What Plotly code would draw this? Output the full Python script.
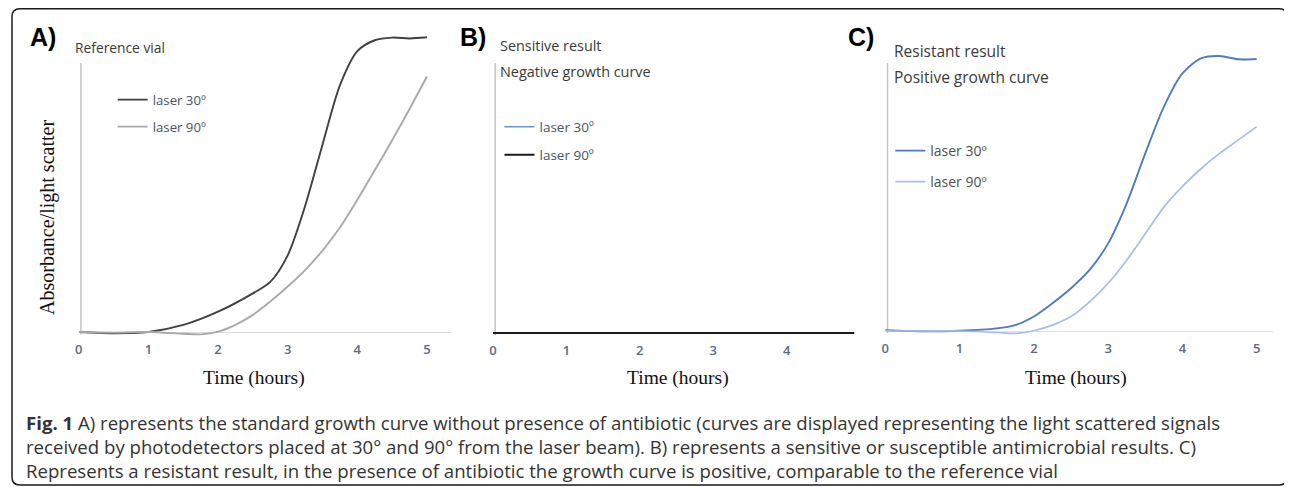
import plotly.graph_objects as go

OFF = 8                      # page body margin of the browser
W, H = 1292 - OFF, 487 - OFF

# ---------------- data (arbitrary signal units) ----------------
t_a30 = [0, 0.5, 1, 1.5, 2, 2.5, 2.75, 3, 3.25, 3.5, 3.75, 4, 4.25, 4.5, 4.75, 5]
a30 = [0, -0.4, 0, 2.4, 6.9, 13.1, 17.0, 26.0, 42.7, 63.5, 83.6, 95.2, 98.9, 99.8, 99.5, 99.9]
t_a90 = [0, 0.5, 1, 1.5, 1.75, 2, 2.25, 2.5, 2.75, 3, 3.25, 3.5, 3.75, 4, 4.25, 4.5, 4.75, 5]
a90 = [0, -0.2, 0, -0.6, -0.8, 0.1, 2.4, 5.8, 10.3, 15.4, 21.0, 27.6, 35.4, 44.8, 54.8, 65.0, 75.6, 86.6]

t_b = [0, 1, 2, 3, 4, 4.92]
b30 = [0, 0, 0, 0, 0, 0]
b90 = [0, 0, 0, 0, 0, 0]

t_c30 = [0, 0.5, 1, 1.5, 1.75, 2, 2.25, 2.5, 2.75, 3, 3.25, 3.5, 3.75, 4, 4.25, 4.5, 4.75, 5]
c30 = [0.3, -0.1, 0.1, 0.9, 2.0, 4.9, 9.4, 14.5, 20.7, 29.7, 43.3, 60.2, 76.0, 87.3, 92.4, 93.2, 92.1, 92.2]
t_c90 = [0, 0.5, 1, 1.5, 1.75, 2, 2.25, 2.5, 2.75, 3, 3.25, 3.5, 3.75, 4, 4.25, 4.5, 4.75, 5]
c90 = [0, 0, 0, -0.5, -0.8, 0.1, 2.0, 4.9, 9.9, 16.2, 24.0, 33.0, 42.0, 49.0, 55.0, 60.2, 64.7, 69.3]

ticks_ac = [0, 1, 2, 3, 4, 5]
ticks_b = [0, 1, 2, 3, 4]
legend_names = ["laser 30º", "laser 90º"]

panel_letters = ["A)", "B)", "C)"]
panel_titles = [["Reference vial"], ["Sensitive result", "Negative growth curve"],
                ["Resistant result", "Positive growth curve"]]
y_title = "Absorbance/light scatter"
x_title = "Time (hours)"
caption_lines = [
    "<b>Fig. 1</b> A) represents the standard growth curve without presence of antibiotic (curves are displayed representing the light scattered signals",
    "received by photodetectors placed at 30° and 90° from the laser beam). B) represents a sensitive or susceptible antimicrobial results. C)",
    "Represents a resistant result, in the presence of antibiotic the growth curve is positive, comparable to the reference vial",
]

# ---------------- helpers (page pixels -> paper) ----------------
def px(x):
    return (x - OFF) / W

def py(y):
    return 1 - (y - OFF) / H

S = 2.95  # pixels per signal unit

geo = {
    "A": dict(x0=75, x1=448, xmax=5.34, top=28, bottom=340, base=332),
    "B": dict(x0=490.5, x1=853.5, xmax=4.93, top=28, bottom=341, base=333),
    "C": dict(x0=884, x1=1273, xmax=5.22, top=28, bottom=339, base=331),
}

fig = go.Figure()

sans = "Open Sans, Noto Sans, sans-serif"
serif = "Liberation Serif, DejaVu Serif, serif"

traces = [
    ("A", t_a30, a30, "#404040", 1.9, 0),
    ("A", t_a90, a90, "#a9a9a9", 1.9, 1),
    ("B", t_b, b30, "#6a93d6", 1.6, 0),
    ("B", t_b, b90, "#1a1a1a", 2.0, 1),
    ("C", t_c30, c30, "#5179c4", 1.9, 0),
    ("C", t_c90, c90, "#a9bde8", 1.7, 1),
]
axis_ids = {"A": ("x", "y"), "B": ("x2", "y2"), "C": ("x3", "y3")}
legend_pos = {  # (line start px, center y px)
    ("A", 0): (117, 100), ("A", 1): (117, 127),
    ("B", 0): (505, 127), ("B", 1): (505, 155),
    ("C", 0): (897, 151), ("C", 1): (897, 182),
}
legend_font = {
    "A": dict(size=13.2, color="#4a5366"),
    "B": dict(size=13.5, color="#44546a"),
    "C": dict(size=14, color="#505050"),
}

legend_layout = {}
for i, (p, t, v, col, lw, k) in enumerate(traces):
    lname = "legend" if i == 0 else f"legend{i+1}"
    xa, ya = axis_ids[p]
    fig.add_trace(go.Scatter(
        x=t, y=v, mode="lines", name=legend_names[k],
        line=dict(color=col, width=lw, shape="spline", smoothing=0.8),
        xaxis=xa, yaxis=ya, legend=lname, showlegend=True,
    ))
    lx, ly = legend_pos[(p, k)]
    legend_layout[lname] = dict(
        x=px(lx - 8), y=py(ly), xanchor="left", yanchor="middle",
        bgcolor="rgba(0,0,0,0)", borderwidth=0, itemwidth=30,
        font=dict(family=sans, **legend_font[p]),
        itemclick=False, itemdoubleclick=False,
    )

layout = dict(width=W, height=H, margin=dict(l=0, r=0, t=0, b=0),
              paper_bgcolor="white", plot_bgcolor="rgba(0,0,0,0)")
layout.update(legend_layout)

shapes = []
for n, p in enumerate(["A", "B", "C"]):
    g = geo[p]
    suf = "" if n == 0 else str(n + 1)
    ticks = ticks_b if p == "B" else ticks_ac
    layout["xaxis" + suf] = dict(
        domain=[px(g["x0"]), px(g["x1"])], range=[0, g["xmax"]],
        anchor="y" + suf, tickvals=ticks, ticktext=[str(x) for x in ticks],
        showgrid=False, zeroline=False, showline=False, ticks="",
        tickfont=dict(family=sans, size=13, color="#5a6a88", weight=600),
        fixedrange=True,
    )
    layout["yaxis" + suf] = dict(
        domain=[py(g["bottom"]), py(g["top"])],
        range=[(g["base"] - g["bottom"]) / S, (g["base"] - g["top"]) / S],
        anchor="x" + suf, showticklabels=False, showgrid=False, ticks="",
        zeroline=True, zerolinecolor="#dcdcdc" if p != "C" else "#dde3ee", zerolinewidth=1.3,
        showline=False, fixedrange=True,
    )
    shapes.append(dict(type="line", xref="x" + suf, yref="y" + suf,
                       x0=0.03, x1=0.03, y0=-0.8, y1=(g["base"] - 63) / S,
                       line=dict(color="#c4c4c4", width=1.5), layer="below"))

# rounded outer frame
r = 8
x0f, y0f, x1f, y1f = 8, 8.8, 1287, 485
path = (f"M {px(x0f + r)},{py(y0f)} L {px(x1f - r)},{py(y0f)} "
        f"Q {px(x1f)},{py(y0f)} {px(x1f)},{py(y0f + r)} L {px(x1f)},{py(y1f - r)} "
        f"Q {px(x1f)},{py(y1f)} {px(x1f - r)},{py(y1f)} L {px(x0f + r)},{py(y1f)} "
        f"Q {px(x0f)},{py(y1f)} {px(x0f)},{py(y1f - r)} L {px(x0f)},{py(y0f + r)} "
        f"Q {px(x0f)},{py(y0f)} {px(x0f + r)},{py(y0f)} Z")
shapes.append(dict(type="path", xref="paper", yref="paper", path=path,
                   line=dict(color="#1a1a1a", width=1.5)))
layout["shapes"] = shapes

ann = []
def note(text, x, y, size, family=sans, color="#333333", xanchor="left", align="left"):
    ann.append(dict(text=text, x=px(x), y=py(y), xref="paper", yref="paper",
                    xanchor=xanchor, yanchor="middle", showarrow=False, align=align,
                    font=dict(family=family, size=size, color=color)))

for txt, x in zip(panel_letters, [24, 455, 845]):
    note(f"<b>{txt}</b>", x, 37, 25, family="Liberation Sans, Arial, sans-serif", color="#000000")

note(panel_titles[0][0], 69, 47, 13.8, color="#3a3a3a")
note(panel_titles[1][0], 496, 45, 14.4, color="#3a3a3a")
note(panel_titles[1][1], 496, 71, 14.4, color="#3a3a3a")
note(panel_titles[2][0], 891, 51, 15.5, color="#3a3a3a")
note(panel_titles[2][1], 891, 77, 15.5, color="#3a3a3a")

ann.append(dict(text=y_title, x=px(43), y=py(217), xref="paper", yref="paper",
                xanchor="center", yanchor="middle", showarrow=False, textangle=-90,
                font=dict(family=serif, size=20, color="#111111")))
for cx in [251, 676, 1075]:
    note(x_title, cx, 378, 19.5, family=serif, color="#111111", xanchor="center")

note("<br>".join(caption_lines), 20, 446.5, 18.6, color="#333333")

layout["annotations"] = ann
fig.update_layout(**layout)
fig.write_html("out.html", config={"displayModeBar": False})
